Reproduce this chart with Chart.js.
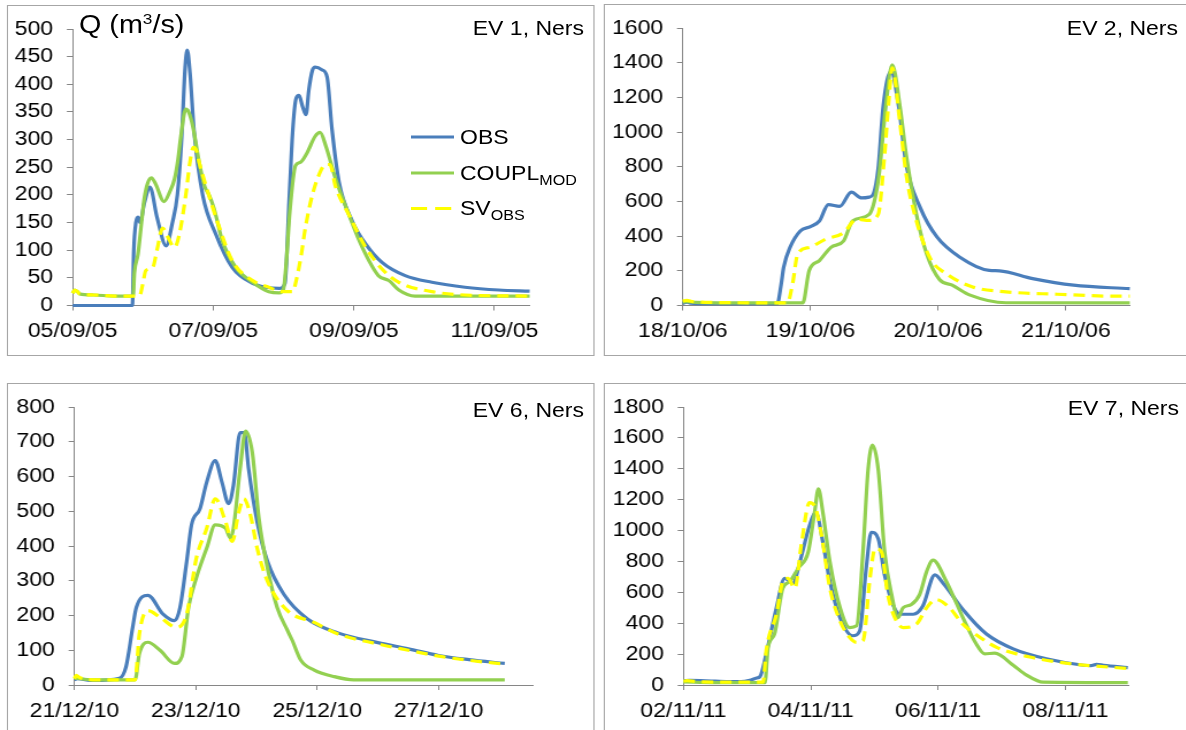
<!DOCTYPE html>
<html>
<head>
<meta charset="utf-8">
<script src="https://cdn.jsdelivr.net/npm/chart.js@4.4.1/dist/chart.umd.min.js"></script>
<style>
body { margin: 0; background: #fff; overflow: hidden; width: 1186px; height: 730px; }
#page { position: absolute; left: 0; top: 0; width: 1032px; height: 730px; transform: scaleX(1.15); transform-origin: 0 0; font-family: 'Liberation Sans', Arial, sans-serif; }
.box { position: absolute; border: 1.5px solid #a6a6a6; box-sizing: border-box; }
canvas { position: absolute; }
.txt { position: absolute; white-space: nowrap; color: #000; line-height: 1; }
</style>
</head>
<body>
<div id="page"></div>
<script>
console.log("NERS CHARTS");
const SX = 1.15;

// EV 1, Ners
let ev1Labels = ["05/09/05", "07/09/05", "09/09/05", "11/09/05"];
let ev1ObsT = [0, 0.85, 0.87, 0.9, 0.93, 0.96, 1.02, 1.1, 1.2, 1.33, 1.42, 1.49, 1.55, 1.6, 1.63, 1.67, 1.73, 1.85, 2.04, 2.27, 2.56, 2.75, 2.94, 3.02, 3.08, 3.13, 3.18, 3.22, 3.27, 3.32, 3.36, 3.41, 3.45, 3.55, 3.62, 3.69, 3.79, 3.98, 4.17, 4.4, 4.73, 5.11, 5.58, 6.06, 6.5];
let ev1ObsQ = [0, 0, 100, 150, 160, 150, 185, 214, 160, 108, 150, 200, 300, 430, 462, 420, 312, 200, 128, 69, 40, 33, 31, 40, 190, 315, 375, 380, 360, 345, 390, 425, 431, 426, 413, 318, 223, 152, 111, 78, 54, 42, 33, 28, 26];
let ev1CouplT = [0, 0.03, 0.07, 0.1, 0.3, 0.6, 0.86, 0.88, 0.93, 0.98, 1.02, 1.07, 1.12, 1.18, 1.3, 1.38, 1.45, 1.5, 1.54, 1.61, 1.65, 1.71, 1.8, 1.88, 1.94, 2.01, 2.13, 2.32, 2.56, 2.79, 2.94, 3.0, 3.04, 3.09, 3.17, 3.24, 3.33, 3.45, 3.52, 3.6, 3.74, 3.93, 4.12, 4.35, 4.5, 4.64, 4.87, 6.5];
let ev1CouplQ = [22, 28, 25, 21, 19, 17, 17, 60, 93, 150, 194, 222, 231, 220, 188, 205, 229, 265, 306, 355, 350, 324, 259, 215, 200, 176, 117, 69, 42, 25, 23, 30, 80, 170, 253, 259, 275, 306, 313, 289, 229, 164, 105, 54, 45, 28, 17, 17];
let ev1SvT = [0, 0.03, 0.07, 0.1, 0.3, 0.6, 0.95, 1.0, 1.04, 1.14, 1.2, 1.28, 1.35, 1.45, 1.52, 1.61, 1.67, 1.72, 1.76, 1.8, 1.9, 2.09, 2.27, 2.56, 2.79, 2.98, 3.13, 3.18, 3.25, 3.31, 3.41, 3.5, 3.6, 3.66, 3.74, 3.93, 4.17, 4.4, 4.64, 5.11, 5.58, 6.5];
let ev1SvQ = [22, 28, 25, 21, 19, 17, 17, 40, 63, 69, 100, 140, 125, 105, 130, 200, 260, 286, 280, 259, 215, 140, 81, 45, 33, 25, 25, 45, 90, 140, 200, 235, 255, 255, 215, 164, 105, 66, 42, 25, 19, 17];

// EV 2, Ners
let ev2Labels = ["18/10/06", "19/10/06", "20/10/06", "21/10/06"];
let ev2ObsT = [0, 0.03, 0.06, 0.2, 0.74, 0.77, 0.79, 0.84, 0.92, 1.0, 1.07, 1.14, 1.23, 1.32, 1.4, 1.46, 1.49, 1.53, 1.57, 1.63, 1.69, 1.75, 1.86, 1.99, 2.17, 2.4, 2.48, 2.74, 3.06, 3.5];
let ev2ObsQ = [12, 20, 14, 10, 10, 120, 221, 335, 430, 455, 487, 582, 572, 654, 620, 625, 639, 790, 1151, 1350, 1151, 810, 563, 395, 278, 202, 200, 155, 117, 97];
let ev2CouplT = [0, 0.03, 0.1, 0.5, 0.94, 0.99, 1.07, 1.16, 1.26, 1.33, 1.46, 1.5, 1.54, 1.59, 1.64, 1.7, 1.75, 1.83, 1.91, 2.01, 2.11, 2.25, 2.53, 3.5];
let ev2CouplQ = [20, 22, 18, 15, 15, 202, 259, 335, 373, 487, 525, 600, 772, 1151, 1388, 1151, 867, 525, 297, 150, 117, 60, 16, 15];
let ev2SvT = [0, 0.03, 0.08, 0.3, 0.82, 0.86, 0.9, 0.99, 1.12, 1.26, 1.36, 1.46, 1.53, 1.58, 1.61, 1.64, 1.7, 1.75, 1.83, 1.94, 2.07, 2.27, 2.53, 2.93, 3.37, 3.5];
let ev2SvQ = [25, 30, 22, 17, 15, 126, 297, 335, 383, 420, 497, 491, 525, 867, 1151, 1370, 1056, 753, 487, 269, 180, 107, 79, 65, 54, 54];

// EV 6, Ners
let ev6Labels = ["21/12/10", "23/12/10", "25/12/10", "27/12/10"];
let ev6ObsT = [0, 0.05, 0.3, 0.74, 0.85, 0.96, 1.02, 1.21, 1.46, 1.65, 1.74, 1.85, 1.93, 2.07, 2.18, 2.32, 2.43, 2.54, 2.62, 2.73, 2.8, 2.87, 3.01, 3.18, 3.45, 3.84, 4.34, 5.0, 5.5, 6.0, 6.5, 7.09];
let ev6ObsQ = [15, 18, 13, 19, 52, 166, 223, 258, 204, 185, 223, 356, 461, 508, 584, 646, 584, 522, 575, 726, 726, 622, 470, 356, 261, 190, 150, 122, 104, 85, 73, 62];
let ev6CouplT = [0, 0.3, 1.0, 1.07, 1.21, 1.41, 1.65, 1.77, 1.88, 2.01, 2.18, 2.32, 2.49, 2.57, 2.62, 2.73, 2.82, 2.93, 3.04, 3.18, 3.34, 3.51, 3.59, 3.73, 3.95, 4.28, 4.6, 7.09];
let ev6CouplQ = [20, 15, 15, 90, 123, 100, 62, 81, 223, 309, 394, 461, 451, 423, 451, 622, 731, 670, 479, 337, 223, 157, 128, 71, 43, 24, 15, 15];
let ev6SvT = [0, 0.03, 0.08, 0.3, 1.0, 1.07, 1.21, 1.41, 1.68, 1.85, 2.01, 2.18, 2.32, 2.49, 2.6, 2.71, 2.79, 2.9, 3.01, 3.18, 3.51, 3.95, 4.34, 5.0, 5.5, 6.0, 6.5, 7.09];
let ev6SvQ = [18, 28, 22, 15, 15, 147, 214, 195, 166, 204, 366, 451, 536, 470, 413, 499, 536, 489, 394, 299, 214, 180, 147, 118, 100, 83, 71, 60];

// EV 7, Ners
let ev7Labels = ["02/11/11", "04/11/11", "06/11/11", "08/11/11"];
let ev7ObsT = [0, 0.1, 0.5, 0.9, 1.04, 1.15, 1.2, 1.3, 1.46, 1.59, 1.72, 1.83, 1.98, 2.08, 2.19, 2.3, 2.46, 2.66, 2.77, 2.87, 2.95, 3.06, 3.16, 3.29, 3.4, 3.61, 3.76, 3.95, 4.08, 4.39, 4.76, 5.18, 5.7, 6.28, 6.4, 6.49, 6.6, 6.98];
let ev7ObsQ = [28, 30, 25, 22, 30, 45, 53, 202, 500, 691, 659, 798, 1032, 1117, 925, 670, 436, 319, 351, 755, 989, 946, 713, 521, 458, 458, 511, 713, 659, 489, 330, 234, 170, 128, 125, 134, 128, 113];
let ev7CouplT = [0, 0.5, 1.28, 1.33, 1.43, 1.56, 1.67, 1.8, 1.96, 2.06, 2.12, 2.19, 2.3, 2.46, 2.61, 2.72, 2.82, 2.9, 2.97, 3.06, 3.16, 3.27, 3.37, 3.45, 3.58, 3.71, 3.82, 3.92, 4.13, 4.39, 4.6, 4.73, 4.89, 5.18, 5.39, 5.65, 6.98];
let ev7CouplQ = [20, 15, 15, 244, 330, 627, 670, 755, 862, 1117, 1270, 1117, 798, 500, 372, 383, 862, 1393, 1553, 1393, 862, 585, 436, 500, 521, 585, 734, 809, 670, 436, 266, 202, 206, 128, 64, 18, 15];
let ev7SvT = [0, 0.05, 0.3, 1.25, 1.3, 1.46, 1.56, 1.64, 1.75, 1.85, 1.98, 2.06, 2.17, 2.3, 2.46, 2.61, 2.72, 2.82, 2.93, 3.01, 3.11, 3.21, 3.32, 3.45, 3.66, 3.82, 3.97, 4.18, 4.39, 4.66, 4.92, 5.44, 6.07, 6.98];
let ev7SvQ = [25, 28, 20, 18, 223, 458, 670, 691, 627, 904, 1181, 1160, 968, 627, 415, 308, 276, 287, 691, 883, 862, 585, 436, 372, 394, 500, 553, 500, 394, 308, 244, 181, 138, 107];

const BLUE = "#4a7ebb";
const GREEN = "#92d050";
const YELLOW = "#ffff00";
const AXIS = "#868686";

Chart.defaults.font.family = "'Liberation Sans', Arial, sans-serif";

let page = document.getElementById("page");

// box and plot area are in page pixels: box [x, y, w, h], plot [left, right, top, bottom]
let panels = [
    { name: "EV 1, Ners", nameX: 584, nameY: 35, box: [7, 5, 587, 351], plot: [72.7, 529.7, 24.5, 305.5],
      xMax: 6.5, xStep: 2, xLabels: ev1Labels, yMax: 500, yStep: 50,
      obs: [ev1ObsT, ev1ObsQ], coupl: [ev1CouplT, ev1CouplQ], sv: [ev1SvT, ev1SvQ] },
    { name: "EV 2, Ners", nameX: 1178, nameY: 35, box: [604, 4, 600, 352], plot: [683, 1130, 24.5, 305.5],
      xMax: 3.5, xStep: 1, xLabels: ev2Labels, yMax: 1600, yStep: 200,
      obs: [ev2ObsT, ev2ObsQ], coupl: [ev2CouplT, ev2CouplQ], sv: [ev2SvT, ev2SvQ] },
    { name: "EV 6, Ners", nameX: 584, nameY: 416.5, box: [7, 383, 587, 360], plot: [74.5, 532.8, 404, 685],
      xMax: 7.55, xStep: 2, xLabels: ev6Labels, yMax: 800, yStep: 100,
      obs: [ev6ObsT, ev6ObsQ], coupl: [ev6CouplT, ev6CouplQ], sv: [ev6SvT, ev6SvQ] },
    { name: "EV 7, Ners", nameX: 1179, nameY: 415, box: [604, 383, 600, 360], plot: [683.7, 1129.3, 403.5, 685],
      xMax: 7.0, xStep: 2, xLabels: ev7Labels, yMax: 1800, yStep: 200,
      obs: [ev7ObsT, ev7ObsQ], coupl: [ev7CouplT, ev7CouplQ], sv: [ev7SvT, ev7SvQ] }
];

function pts(t, q) {
    return t.map((x, i) => ({ x: x, y: q[i] }));
}

function addText(html, x, baseline, size, anchor) {
    let d = document.createElement("div");
    d.className = "txt";
    d.innerHTML = html;
    d.style.fontSize = size + "px";
    d.style.left = (x / SX) + "px";
    d.style.top = (baseline - size * 0.846) + "px";
    if (anchor == "right") d.style.transform = "translateX(-100%)";
    page.appendChild(d);
}

function makePanel(p) {
    let [bx, by, bw, bh] = p.box;

    let box = document.createElement("div");
    box.className = "box";
    box.style.left = (bx / SX) + "px";
    box.style.top = by + "px";
    box.style.width = (bw / SX) + "px";
    box.style.height = bh + "px";
    page.appendChild(box);

    let cw = Math.round(bw / SX), ch = Math.round(bh);
    let cv = document.createElement("canvas");
    cv.width = cw;
    cv.height = ch;
    cv.style.left = (bx / SX) + "px";
    cv.style.top = by + "px";
    page.appendChild(cv);

    let padL = (p.plot[0] - bx) / SX;
    let padR = cw - (p.plot[1] - bx) / SX;
    let padT = p.plot[2] - by;
    let padB = ch - (p.plot[3] - by);

    new Chart(cv, {
        type: "line",
        data: {
            datasets: [
                { label: "SV", data: pts(p.sv[0], p.sv[1]), borderColor: YELLOW, borderDash: [10, 6], order: 0 },
                { label: "COUPL", data: pts(p.coupl[0], p.coupl[1]), borderColor: GREEN, order: 1 },
                { label: "OBS", data: pts(p.obs[0], p.obs[1]), borderColor: BLUE, order: 2 }
            ]
        },
        options: {
            responsive: false,
            animation: false,
            layout: { padding: { left: 0, top: padT, right: padR, bottom: 0 } },
            plugins: { legend: { display: false }, tooltip: { enabled: false } },
            datasets: { line: { borderWidth: 3.2, pointRadius: 0, clip: false, fill: false,
                                cubicInterpolationMode: "monotone" } },
            scales: {
                x: {
                    type: "linear", min: 0, max: p.xMax,
                    afterBuildTicks: s => { s.ticks = p.xLabels.map((l, k) => ({ value: k * p.xStep })); },
                    afterFit: s => { s.height = padB; },
                    ticks: { callback: (v, k) => p.xLabels[k], color: "#000", font: { size: 20 },
                             padding: 9, maxRotation: 0, autoSkip: false },
                    grid: { drawOnChartArea: false, tickLength: 5, color: AXIS },
                    border: { color: AXIS }
                },
                y: {
                    min: 0, max: p.yMax,
                    afterFit: s => { s.width = padL; },
                    ticks: { stepSize: p.yStep, callback: v => String(v), color: "#000", font: { size: 20 },
                             padding: 12, autoSkip: false },
                    grid: { drawOnChartArea: false, tickLength: 5, color: AXIS },
                    border: { color: AXIS }
                }
            }
        }
    });

    addText(p.name, p.nameX, p.nameY, 20, "right");
}

panels.forEach(makePanel);

// axis title of the first panel
addText('Q (m<span style="font-size:15px;position:relative;top:-9px">3</span>/s)', 79, 33.5, 25, "left");

// legend of the first panel
let legendItems = [
    { text: "OBS", color: BLUE, dash: "", y: 137 },
    { text: 'COUPL<span style="font-size:14px;position:relative;top:5px">MOD</span>', color: GREEN, dash: "", y: 173 },
    { text: 'SV<span style="font-size:14px;position:relative;top:5px">OBS</span>', color: YELLOW, dash: "14 7", y: 208.5 }
];

let svg = document.createElementNS("http://www.w3.org/2000/svg", "svg");
svg.setAttribute("width", 1032);
svg.setAttribute("height", 730);
svg.style.position = "absolute";
svg.style.left = "0px";
svg.style.top = "0px";
page.appendChild(svg);

legendItems.forEach(item => {
    let ln = document.createElementNS("http://www.w3.org/2000/svg", "line");
    ln.setAttribute("x1", 411 / SX);
    ln.setAttribute("x2", 454 / SX);
    ln.setAttribute("y1", item.y);
    ln.setAttribute("y2", item.y);
    ln.setAttribute("stroke", item.color);
    ln.setAttribute("stroke-width", 3.2);
    if (item.dash) ln.setAttribute("stroke-dasharray", item.dash);
    svg.appendChild(ln);
    addText(item.text, 460, item.y + 6.6, 20, "left");
});
</script>
</body>
</html>
